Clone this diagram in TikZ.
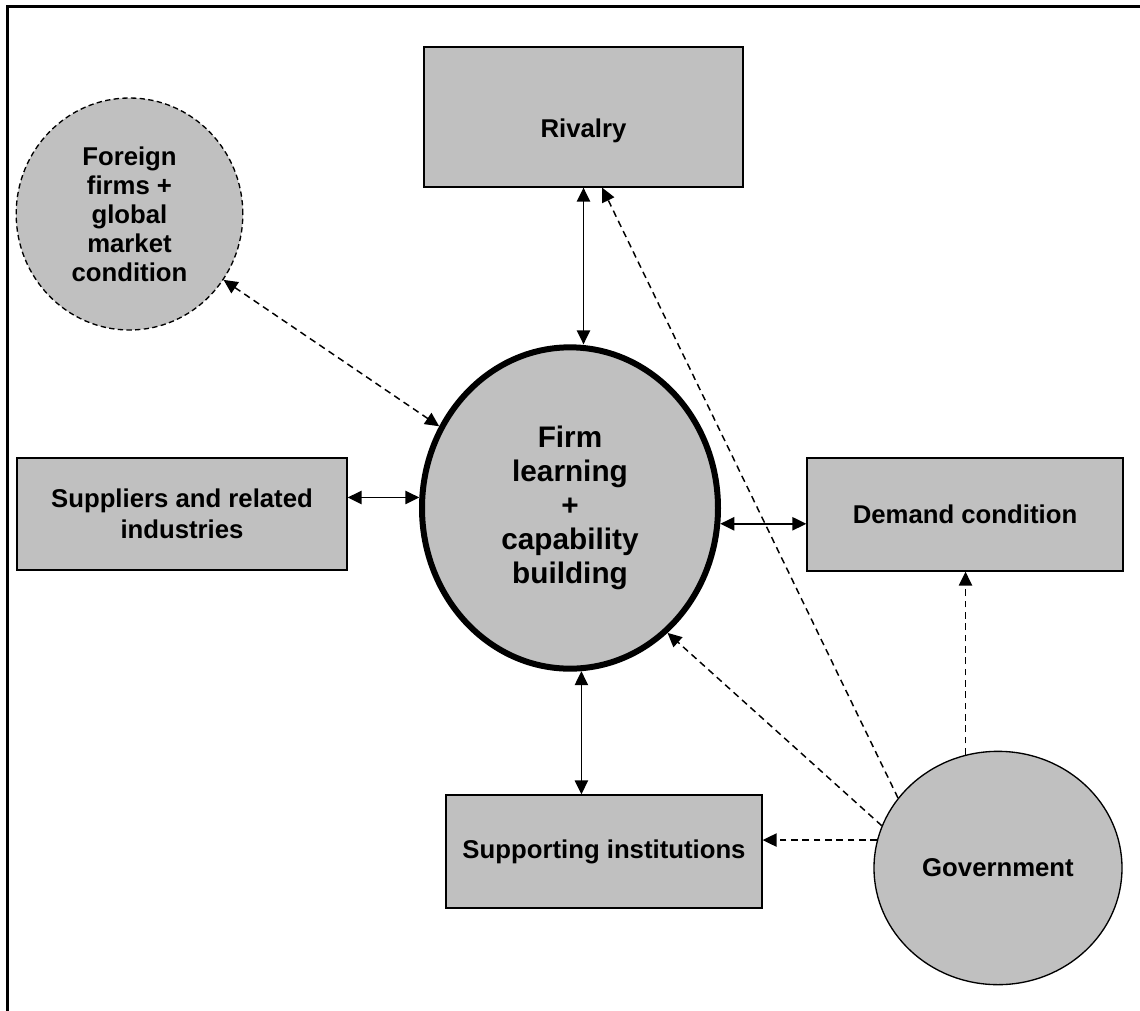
\documentclass[tikz,border=0pt]{standalone}
\usepackage{fontspec}
\setmainfont{Liberation Sans}
\usetikzlibrary{shapes.geometric,arrows.meta}

\tikzset{every picture/.style={line width=0.75pt}}
\tikzset{
  box/.style={draw, fill={rgb, 255:red, 192; green, 192; blue, 192 }, line width=1pt, inner sep=0pt, align=center, font=\bfseries\fontsize{19.3}{23}\selectfont},
  blob/.style={ellipse, draw, fill={rgb, 255:red, 192; green, 192; blue, 192 }, line width=1pt, inner sep=0pt, align=center, font=\bfseries\fontsize{19.3}{21.8}\selectfont},
  twoway/.style={line width=1.1pt, {Triangle[length=10.5pt,width=10pt]}-{Triangle[length=10.5pt,width=10pt]}},
  dashtwoway/.style={twoway, dash pattern={on 5pt off 3.5pt}},
  govlink/.style={line width=1.1pt, dash pattern={on 5pt off 3.5pt}, -{Triangle[length=10.5pt,width=10pt]}}
}

\begin{document}
\begin{tikzpicture}[x=0.75pt,y=0.75pt,yscale=-1,xscale=1]
	\useasboundingbox (0,0) rectangle (1140,1011);

	%Straight Lines: frame
	\draw [line width=2pt] (7.5,1011) -- (7.5,6.5) -- (1140,6.5) ;

	%Shape: Rectangle
	\node [box, minimum width=239.25pt, minimum height=105pt] (rival) at (583.5,117) {};
	% Text Node
	\node [font=\bfseries\fontsize{19.3}{23}\selectfont] (rivaltext) at (583.5,131) {Rivalry};
	%Shape: Circle (dashed)
	\node [blob, dash pattern={on 4pt off 2.5pt}, minimum width=170pt, minimum height=174pt] (foreign) at (129.5,214) {Foreign\\firms +\\global\\market\\condition};
	%Shape: Circle (thick)
	\node [blob, line width=4.5pt, minimum width=222pt, minimum height=241pt, font=\bfseries\fontsize{22.3}{25.5}\selectfont] (firm) at (570,508) {Firm\\learning\\+\\capability\\building};
	%Shape: Rectangle
	\node [box, minimum width=247.5pt, minimum height=84pt] (supp) at (182,514) {Suppliers and related\\industries};
	%Shape: Rectangle
	\node [box, minimum width=237pt, minimum height=84.75pt] (demand) at (965,514.5) {Demand condition};
	%Shape: Rectangle
	\node [box, minimum width=237pt, minimum height=84.75pt] (support) at (604,851.5) {Supporting institutions};
	%Shape: Ellipse
	\node [blob, minimum width=186pt, minimum height=175pt] (gov) at (998,868) {Government};

	%Straight Lines
	\draw [twoway] (rival.south) -- (rival.south |- firm.north) ;
	\draw [twoway] (firm.-86) -- (firm.-86 |- support.north) ;
	\draw [twoway] (firm.176 -| supp.east) -- (firm.176) ;
	\draw [twoway] (firm.-6) -- (firm.-6 -| demand.west) ;
	\draw [dashtwoway] (foreign.-35) -- (firm.148) ;

	%Dashed Lines from government
	\draw [govlink] (gov.145) -- ([xshift=14pt]rival.south) ;
	\draw [govlink] (gov.160) -- (firm.-52) ;
	\draw [govlink] (gov.167) -- (gov.167 -| support.east) ;
	\draw [govlink] (gov.106) -- (gov.106 |- demand.south) ;

\end{tikzpicture}
\end{document}
